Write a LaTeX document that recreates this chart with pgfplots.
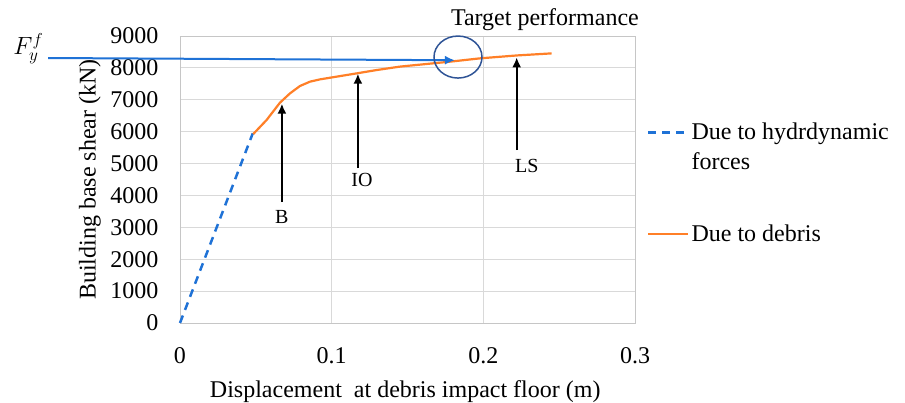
\documentclass[border=0pt]{standalone}
\usepackage{pgfplots}
\pgfplotsset{compat=1.18}
\usepackage{fontspec}
\setmainfont{Liberation Serif}
\usetikzlibrary{arrows.meta}
\definecolor{exblue}{RGB}{31,114,214}
\definecolor{exorange}{RGB}{255,127,39}
\definecolor{circblue}{RGB}{47,84,150}
\definecolor{gridgray}{RGB}{217,217,217}
\begin{document}
\begin{tikzpicture}
\path[use as bounding box] (-180pt,-80pt) rectangle (725pt,323pt);
\begin{axis}[
  at={(0pt,0pt)}, anchor=south west,
  scale only axis, width=455pt, height=287pt,
  xmin=0, xmax=0.3, ymin=0, ymax=9000,
  xtick={0,0.1,0.2,0.3}, ytick={0,1000,...,9000},
  xticklabels={0,0.1,0.2,0.3},
  scaled y ticks=false,
  /pgf/number format/assume math mode=true,
  /pgf/number format/set thousands separator={},
  grid=major, major grid style={gridgray, line width=0.8pt},
  major tick length=0pt,
  axis line style={draw=gray!45, line width=0.8pt},
  ticklabel style={font=\fontsize{24}{28}\selectfont},
  yticklabel style={xshift=-18pt},
  xticklabel style={yshift=-21pt},
  xlabel={Displacement\ \ at debris impact floor (m)},
  ylabel={Building base shear (kN)},
  label style={font=\fontsize{24}{28}\selectfont},
  xlabel style={at={(axis description cs:0.495,-0.240)}, anchor=center},
  ylabel style={at={(axis description cs:-0.1978,0.5)}, anchor=center},
  clip=false,
  legend style={at={(axis description cs:1.026,0.72)}, anchor=north west,
    draw=none, fill=none, font=\fontsize{24}{30}\selectfont,
    cells={anchor=base west}, inner sep=0pt},
  legend image code/.code={\draw[#1] (0pt,7pt) -- (40pt,7pt);},
]
\addplot[exblue, line width=2.5pt, dash pattern=on 8pt off 6pt] coordinates {
  (0,0) (0.048,5950)
};
\addlegendentry{\begin{tabular}[t]{@{}l@{}}Due to hydrdynamic\\forces\end{tabular}}
\addplot[exorange, line width=2.2pt] coordinates {
  (0.0483,5926) (0.0571,6366) (0.0659,6908) (0.0725,7200) (0.0791,7432)
  (0.0857,7568) (0.0923,7640) (0.1165,7828) (0.1296,7932) (0.145,8040)
  (0.178,8195) (0.198,8300) (0.222,8390) (0.245,8455)
};
\addlegendentry{\rule{0pt}{96pt}Due to debris}

% annotations
\draw[exblue, line width=2pt, -{Latex[length=10pt,width=9pt]}] (axis cs:-0.087,8310) -- (axis cs:0.1813,8240);
\draw[circblue, line width=1.5pt] (axis cs:0.1833,8340) ellipse [x radius=24pt, y radius=21pt];
\node[font=\fontsize{26}{30}\selectfont] at (axis cs:-0.100,8600) {$F_y^f$};
\node[font=\fontsize{24}{28}\selectfont] at (axis cs:0.2406,9500) {Target performance};

\draw[black, line width=2pt, -{Latex[length=10pt,width=9pt]}] (axis cs:0.0672,3794) -- (axis cs:0.0672,6880);
\node[font=\fontsize{20}{24}\selectfont] at (axis cs:0.0672,3324) {B};
\draw[black, line width=2pt, -{Latex[length=10pt,width=9pt]}] (axis cs:0.1173,4860) -- (axis cs:0.1173,7820);
\node[font=\fontsize{20}{24}\selectfont] at (axis cs:0.1200,4484) {IO};
\draw[black, line width=2pt, -{Latex[length=10pt,width=9pt]}] (axis cs:0.222,5425) -- (axis cs:0.222,8330);
\node[font=\fontsize{20}{24}\selectfont] at (axis cs:0.2287,4923) {LS};
\end{axis}
\end{tikzpicture}
\end{document}
